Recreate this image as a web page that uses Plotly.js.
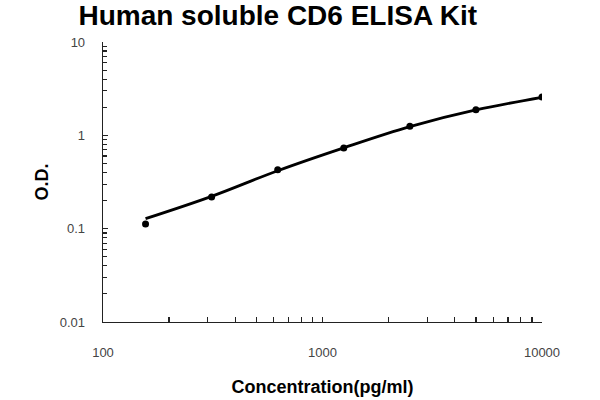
<!DOCTYPE html>
<html>
<head>
<meta charset="utf-8">
<script src="https://cdn.plot.ly/plotly-3.0.1.min.js"></script>
<style>html,body{margin:0;padding:0;background:#fff;}#chart{width:600px;height:400px;}</style>
</head>
<body>
<div id="chart"></div>
<script>
// Standard concentrations (pg/ml)
const concentrations = [156.25, 312.5, 625, 1250, 2500, 5000, 10000];
// Measured O.D. values (points)
const odValues = [0.112, 0.218, 0.429, 0.731, 1.25, 1.885, 2.57];
// Fitted standard curve values
const curveValues = [0.128, 0.222, 0.418, 0.735, 1.24, 1.87, 2.55];
const xTickVals = [100, 1000, 10000];
const xTickText = ['100', '1000', '10000'];
const yTickVals = [0.01, 0.1, 1, 10];
const yTickText = ['0.01', '0.1', '1', '10'];

const traces = [
  {
    x: concentrations, y: curveValues, type: 'scatter', mode: 'lines',
    line: {color: '#000', width: 2.8, shape: 'spline'}, hoverinfo: 'skip'
  },
  {
    x: concentrations, y: odValues, type: 'scatter', mode: 'markers',
    marker: {color: '#000', size: 7, symbol: 'circle'}
  }
];

const tickFont = {family: 'Liberation Sans, Arial, sans-serif', size: 13, color: '#444'};

const layout = {
  width: 600, height: 400,
  paper_bgcolor: '#fff', plot_bgcolor: '#fff',
  showlegend: false,
  margin: {l: 103, r: 58, t: 42, b: 78},
  title: {
    text: '<b>Human soluble CD6 ELISA Kit</b>',
    font: {family: 'Liberation Sans, Arial, sans-serif', size: 28, color: '#000'},
    xref: 'container', yref: 'container', x: 0.463, xanchor: 'center',
    y: 0.962, yanchor: 'middle'
  },
  xaxis: {
    type: 'log', range: [2, 4], showgrid: false, zeroline: false,
    showline: true, linecolor: '#222', linewidth: 1.3, mirror: false,
    tickmode: 'array', tickvals: xTickVals, ticktext: xTickText,
    ticks: 'inside', ticklen: 5, tickcolor: '#222', tickwidth: 1.3,
    minor: {ticks: 'inside', ticklen: 5, tickcolor: '#222', tickwidth: 1.3, dtick: 'D1', showgrid: false},
    tickfont: tickFont, ticklabelstandoff: 18,
    title: {text: '<b>Concentration(pg/ml)</b>', font: {family: 'Liberation Sans, Arial, sans-serif', size: 18, color: '#000'}, standoff: 21}
  },
  yaxis: {
    type: 'log', range: [-2, 1], showgrid: false, zeroline: false,
    showline: true, linecolor: '#222', linewidth: 1.3, mirror: false,
    tickmode: 'array', tickvals: yTickVals, ticktext: yTickText,
    ticks: 'inside', ticklen: 5, tickcolor: '#222', tickwidth: 1.3,
    minor: {ticks: 'inside', ticklen: 4, tickcolor: '#222', tickwidth: 1.2, dtick: 'D1', showgrid: false},
    tickfont: tickFont, ticklabelstandoff: 14,
    title: {text: '<b>O.D.</b>', font: {family: 'Liberation Sans, Arial, sans-serif', size: 18, color: '#000'}, standoff: 6}
  }
};

Plotly.newPlot('chart', traces, layout, {displayModeBar: false, staticPlot: true});
</script>
</body>
</html>
